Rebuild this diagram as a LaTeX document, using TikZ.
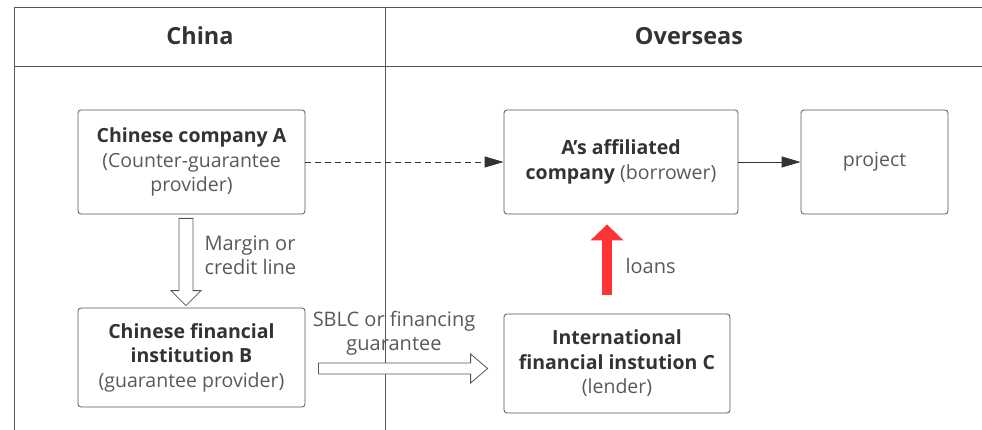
\documentclass[tikz,border=0pt]{standalone}
\usepackage{fontspec}
\setmainfont{Open Sans}
\usetikzlibrary{arrows.meta,calc}
\definecolor{ink}{HTML}{333333}
\definecolor{sub}{HTML}{595959}
\definecolor{rim}{HTML}{555555}
\definecolor{loan}{HTML}{FF3333}
\tikzset{
  party/.style={draw=rim, line width=0.8pt, rounded corners=3pt, align=center,
    text=ink, inner sep=2pt, font=\fontsize{19.5}{24.5}\selectfont},
  lane/.style={draw=rim, line width=0.8pt},
  title/.style={text=ink, font=\bfseries\fontsize{23.5}{26}\selectfont},
  hollow/.style={draw=rim, fill=white, line width=0.8pt, line join=miter},
  note/.style={text=sub, font=\fontsize{20}{24}\selectfont},
}
\begin{document}
\begin{tikzpicture}[x=1pt,y=-1pt]
  \useasboundingbox (0,0) rectangle (982,430);
  % swimlanes
  \draw[lane] (982,7) -- (14,7) -- (14,430);
  \draw[lane] (14,66) -- (982,66);
  \draw[lane] (385,7) -- (385,430);
  \node[title] (china) at (200,36) {China};
  \node[title] (overseas) at (689,36) {Overseas};
  % parties
  \node[party, minimum width=227pt, minimum height=104pt] (A) at (191.5,162)
    {\textbf{Chinese company A}\\ \textcolor{sub}{(Counter-guarantee}\\ \textcolor{sub}{provider)}};
  \node[party, minimum width=227pt, minimum height=99pt] (B) at (191.5,357.5)
    {\textbf{Chinese financial}\\ \textbf{institution B}\\ \textcolor{sub}{(guarantee provider)}};
  \node[party, minimum width=234pt, minimum height=104pt] (aff) at (621,162)
    {\textbf{A's affiliated}\\ \textbf{company} \textcolor{sub}{(borrower)}};
  \node[party, minimum width=147pt, minimum height=104pt] (project) at (874.5,162)
    {\textcolor{sub}{project}};
  \node[party, minimum width=226pt, minimum height=99pt] (C) at (617,363.5)
    {\textbf{International}\\ \textbf{financial instution C}\\ \textcolor{sub}{(lender)}};
  % labels
  \node[note, anchor=west, align=left] (margin) at (201,255) {Margin or\\ credit line};
  \node[note, align=center] (sblc) at (394,333) {SBLC or financing\\ guarantee};
  \node[note, anchor=west] (loans) at (622,266) {loans};
  % flows
  \coordinate (m0) at ($(A.south)+(-5.5,4)$);
  \coordinate (m1) at ($(B.north)+(-5.5,-2)$);
  \coordinate (s0) at ($(B.east)+(13,11)$);
  \coordinate (s1) at ($(C.west)+(-16,5)$);
  \coordinate (r0) at ($(C.north)+(-10,-19)$);
  \coordinate (r1) at ($(aff.south)+(-14,10)$);
  \begin{scope}[-{Triangle[length=19pt,width=11pt]}, draw=ink, line width=0.9pt]
    \draw[dash pattern=on 6pt off 4pt] (A.east) to (aff.west);
    \draw (aff.east) to (project.west);
  \end{scope}
  \draw[hollow] ($(m0)+(-7,0)$) -- ($(m1)+(-7,-15)$) -- ($(m1)+(-15,-15)$) -- (m1)
    -- ($(m1)+(15,-15)$) -- ($(m1)+(7,-15)$) -- ($(m0)+(7,0)$) -- cycle;
  \draw[hollow] ($(s0)+(0,-5.5)$) -- ($(s1)+(-17,-5.5)$) -- ($(s1)+(-17,-14.5)$) -- (s1)
    -- ($(s1)+(-17,14.5)$) -- ($(s1)+(-17,5.5)$) -- ($(s0)+(0,5.5)$) -- cycle;
  \draw[loan, line width=10pt, -{Triangle[length=16pt,width=32pt]}] (r0) -- (r1);
\end{tikzpicture}
\end{document}
